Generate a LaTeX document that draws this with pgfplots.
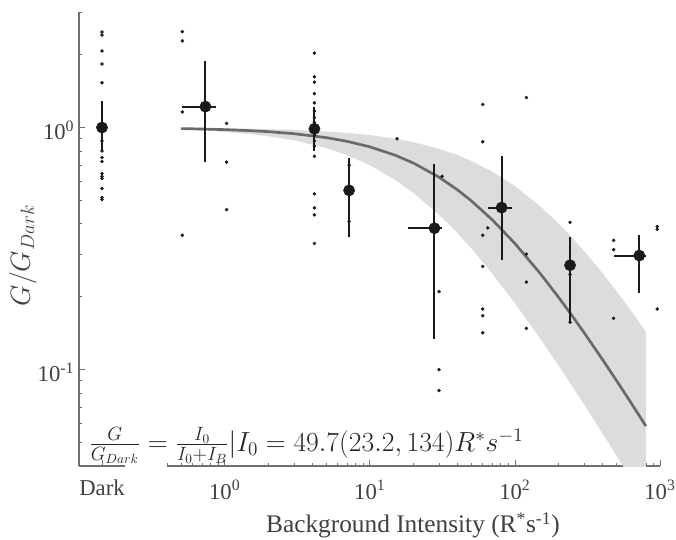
\documentclass[border=0pt]{standalone}
\usepackage{fontspec}
\setmainfont{Liberation Serif}
\usepackage{pgfplots}
\pgfplotsset{compat=1.18}
\definecolor{axc}{HTML}{707070}
\definecolor{txc}{HTML}{404040}
\definecolor{fitc}{HTML}{6A6A6A}
\definecolor{bandc}{HTML}{DCDCDC}
\definecolor{ptc}{HTML}{1A1A1A}
\begin{document}
\begin{tikzpicture}
% ---------------- Dark axis ----------------
\begin{axis}[scale only axis, height=340.5pt, width=34.5pt,
  ymode=log, ymin=0.04, ymax=3, xmin=0, xmax=2,
  tick align=inside, major tick length=4.5pt, minor tick length=2.5pt,
  every tick/.append style={color=axc, line width=0.6pt},
  axis line style={color=axc, line width=0.8pt},
  tick label style={font=\fontsize{17}{20}\selectfont, text=txc},
  axis x line*=bottom, axis y line*=left,
  xtick={1}, xticklabels={Dark},
  ytick={0.1,1}, yticklabels={10\textsuperscript{-1},10\textsuperscript{0}},
  minor ytick={0.04,0.05,0.06,0.07,0.08,0.09,0.2,0.3,0.4,0.5,0.6,0.7,0.8,0.9,2,3},
  x tick label style={anchor=base, yshift=-22pt},
  y tick label style={yshift=-2pt},
  clip=false]
\addplot[only marks, mark=*, mark size=1.1pt, color=ptc] coordinates {
(1,2.48) (1,2.41) (1,2.07) (1,1.83) (1,1.53) (1,0.88) (1,0.80) (1,0.752) (1,0.724)
(1,0.645) (1,0.628) (1,0.616) (1,0.56) (1,0.514) (1,0.504)};
\addplot[color=ptc, line width=1.5pt, no marks] coordinates {(1,0.80) (1,1.29)};
\addplot[only marks, mark=*, mark size=4.2pt, color=ptc] coordinates {(1,1.0)};
\end{axis}
% ---------------- Main axis ----------------
\begin{axis}[scale only axis, height=340.5pt, width=369.75pt, at={(66pt,0pt)},
  xmode=log, ymode=log, ymin=0.04, ymax=3, xmin=0.4, xmax=1000,
  tick align=inside, major tick length=4.5pt, minor tick length=2.5pt,
  every tick/.append style={color=axc, line width=0.6pt},
  axis line style={color=axc, line width=0.8pt},
  tick label style={font=\fontsize{17}{20}\selectfont, text=txc},
  axis x line*=bottom, axis y line=none,
  xtick={1,10,100,1000},
  xticklabels={10\textsuperscript{0},10\textsuperscript{1},10\textsuperscript{2},10\textsuperscript{3}},
  minor xtick={0.4,0.5,0.6,0.7,0.8,0.9,2,3,4,5,6,7,8,9,20,30,40,50,60,70,80,90,200,300,400,500,600,700,800,900},
  x tick label style={anchor=base, yshift=-25pt}]
% confidence band (I0 = 134 upper, I0 = 23.2 lower)
\addplot[fill=bandc, draw=none] table {
x y
0.5 0.9963
0.7 0.9948
1 0.9926
1.5 0.9889
2 0.9853
3 0.9781
5 0.9640
7 0.9504
10 0.9306
15 0.8993
20 0.8701
30 0.8171
40 0.7701
50 0.7283
70 0.6569
100 0.5726
150 0.4718
200 0.4012
250 0.3490
300 0.3088
400 0.2509
500 0.2114
600 0.1826
800 0.1435
800 0.0282
600 0.0372
500 0.0443
400 0.0548
300 0.0718
250 0.0849
200 0.1039
150 0.1339
100 0.1883
70 0.2489
50 0.3169
40 0.3671
30 0.4361
20 0.5370
15 0.6073
10 0.6988
7 0.7682
5 0.8227
3 0.8855
2 0.9206
1.5 0.9393
1 0.9587
0.7 0.9707
0.5 0.9789
};
% fit I0 = 49.7
\addplot[color=fitc, line width=2pt, no marks] table {
x y
0.5 0.9900
0.7 0.9861
1 0.9803
1.5 0.9707
2 0.9613
3 0.9431
5 0.9086
7 0.8765
10 0.8325
15 0.7682
20 0.7131
30 0.6236
40 0.5541
50 0.4985
70 0.4152
100 0.3320
150 0.2489
200 0.1990
250 0.1658
300 0.1421
400 0.1105
500 0.0904
600 0.0765
800 0.0585
};
% individual cells
\addplot[only marks, mark=*, mark size=1.1pt, color=ptc] coordinates {
(0.51,2.49) (0.51,2.28) (0.51,1.16) (0.51,0.359)
(1.03,1.04) (1.03,0.72) (1.03,0.458)
(4.15,2.03) (4.15,1.62) (4.15,1.54) (4.15,1.38) (4.15,1.265) (4.15,1.17) (4.15,1.1)
(4.15,1.05) (4.15,0.93) (4.15,0.88) (4.15,0.837) (4.15,0.761) (4.15,0.532)
(4.15,0.466) (4.15,0.436) (4.15,0.332)
(7.2,0.70) (7.2,0.41)
(15.4,0.898)
(31.5,0.629) (30,0.21) (30,0.10) (30,0.082)
(60,1.245) (60,0.873) (60,0.359) (60,0.267) (60,0.178) (60,0.167) (60,0.142)
(65,0.385)
(120,1.33) (120,0.30) (120,0.23) (120,0.148)
(240,0.406) (240,0.247) (240,0.157)
(479,0.342) (479,0.313) (479,0.163)
(957,0.39) (957,0.38) (957,0.178)
};
% error bars
\addplot[color=ptc, line width=1.5pt, no marks] coordinates {(0.736,0.72) (0.736,1.88)};
\addplot[color=ptc, line width=1.5pt, no marks] coordinates {(0.51,1.22) (0.877,1.22)};
\addplot[color=ptc, line width=1.5pt, no marks] coordinates {(4.15,0.80) (4.15,1.22)};
\addplot[color=ptc, line width=1.5pt, no marks] coordinates {(7.2,0.352) (7.2,0.745)};
\addplot[color=ptc, line width=1.5pt, no marks] coordinates {(27.9,0.134) (27.9,0.708)};
\addplot[color=ptc, line width=1.5pt, no marks] coordinates {(18.4,0.384) (31.2,0.384)};
\addplot[color=ptc, line width=1.5pt, no marks] coordinates {(81,0.285) (81,0.761)};
\addplot[color=ptc, line width=1.5pt, no marks] coordinates {(65.4,0.467) (95.8,0.467)};
\addplot[color=ptc, line width=1.5pt, no marks] coordinates {(240,0.156) (240,0.352)};
\addplot[color=ptc, line width=1.5pt, no marks] coordinates {(720,0.207) (720,0.359)};
\addplot[color=ptc, line width=1.5pt, no marks] coordinates {(482,0.296) (800,0.296)};
% means
\addplot[only marks, mark=*, mark size=4.2pt, color=ptc] coordinates {
(0.736,1.22) (4.15,0.988) (7.2,0.55) (27.9,0.384) (81,0.467) (240,0.27) (720,0.296)};
\end{axis}
% labels
\node[rotate=90, text=txc, font=\fontsize{22}{25}\selectfont] at (-42pt,158pt) {$G/G_{Dark}$};
\node[anchor=base, text=txc, font=\fontsize{19}{22}\selectfont] at (250.5pt,-50pt)
  {Background Intensity (R\textsuperscript{*}s\textsuperscript{-1})};
\node[anchor=base west, inner sep=0pt, text=black!85, font=\fontsize{19.5}{22}\selectfont] at (7.5pt,11pt)
  {$\frac{G}{G_{Dark}} = \frac{I_0}{I_0+I_B}|I_0 = 49.7(23.2, 134)R^{*}s^{-1}$};
\pgfresetboundingbox
\path (-59.25pt,-55.5pt) rectangle (447.75pt,349.5pt);
\end{tikzpicture}
\end{document}
